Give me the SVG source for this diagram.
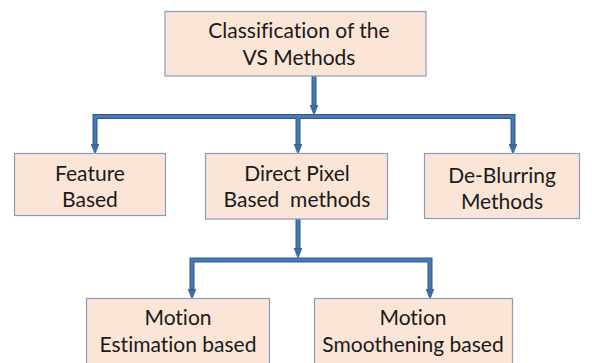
<svg xmlns="http://www.w3.org/2000/svg" width="592" height="363" viewBox="0 0 592 363">
  <defs>
    <marker id="head" viewBox="0 0 10 8" refX="9" refY="4" markerWidth="10" markerHeight="8" markerUnits="userSpaceOnUse" orient="auto">
      <path d="M0,0 L10,4 L0,8 Z" fill="#3f6aa3" stroke="#2d5488" stroke-width="0.6"/>
    </marker>
    <style>
      .box { fill: #fbe5d6; stroke: #8a9cb8; stroke-width: 1.2; }
      .lbl { font-family: Lato, "Liberation Sans", sans-serif; font-size: 21px; fill: #1a1a1a; text-anchor: middle; font-variant-ligatures: none; }
      .edge { fill: none; stroke: #2f5a90; stroke-width: 5; }
      .core { fill: none; stroke: #4a79b5; stroke-width: 2.8; }
    </style>
  </defs>
  <rect width="592" height="363" fill="#ffffff"/>

  <!-- elbow connectors: dark outline stroke with a lighter core -->
  <g id="connectors">
    <path class="edge" d="M314,76 V108"/>
    <path class="edge" d="M95,147 V116.5 H513 V147"/>
    <path class="edge" d="M298,116.5 V147"/>
    <path class="edge" d="M298,219 V251"/>
    <path class="edge" d="M192,292 V260 H430 V292"/>
    <path class="core" d="M314,76 V108"/>
    <path class="core" d="M95,147 V116.5 H513 V147"/>
    <path class="core" d="M298,116.5 V147"/>
    <path class="core" d="M298,219 V251"/>
    <path class="core" d="M192,292 V260 H430 V292"/>
    <!-- arrowheads -->
    <path d="M314,106 V114" fill="none" stroke="none" marker-end="url(#head)"/>
    <path d="M95,145 V153" fill="none" stroke="none" marker-end="url(#head)"/>
    <path d="M298,145 V153" fill="none" stroke="none" marker-end="url(#head)"/>
    <path d="M513,145 V153" fill="none" stroke="none" marker-end="url(#head)"/>
    <path d="M298,249 V257" fill="none" stroke="none" marker-end="url(#head)"/>
    <path d="M192,290 V298" fill="none" stroke="none" marker-end="url(#head)"/>
    <path d="M430,290 V298" fill="none" stroke="none" marker-end="url(#head)"/>
  </g>

  <g id="root">
    <rect class="box" x="165" y="11.5" width="261" height="64.5"/>
    <text class="lbl" x="299" y="38">Classification of the</text>
    <text class="lbl" x="299" y="65">VS Methods</text>
  </g>

  <g id="feature">
    <rect class="box" x="14.5" y="153.5" width="151" height="62"/>
    <text class="lbl" x="90" y="181">Feature</text>
    <text class="lbl" x="90" y="207">Based</text>
  </g>

  <g id="direct-pixel">
    <rect class="box" x="205.5" y="153.5" width="182" height="65.5"/>
    <text class="lbl" x="297" y="181">Direct Pixel</text>
    <text class="lbl" x="297" y="207" xml:space="preserve">Based  methods</text>
  </g>

  <g id="de-blurring">
    <rect class="box" x="424.5" y="153.5" width="155" height="65"/>
    <text class="lbl" x="502" y="183">De-Blurring</text>
    <text class="lbl" x="502" y="209">Methods</text>
  </g>

  <g id="motion-estimation">
    <rect class="box" x="86.5" y="298.5" width="183" height="70"/>
    <text class="lbl" x="178" y="325">Motion</text>
    <text class="lbl" x="178" y="352">Estimation based</text>
  </g>

  <g id="motion-smoothening">
    <rect class="box" x="314.5" y="298.5" width="198" height="70"/>
    <text class="lbl" x="413" y="325">Motion</text>
    <text class="lbl" x="413" y="352">Smoothening based</text>
  </g>
</svg>
